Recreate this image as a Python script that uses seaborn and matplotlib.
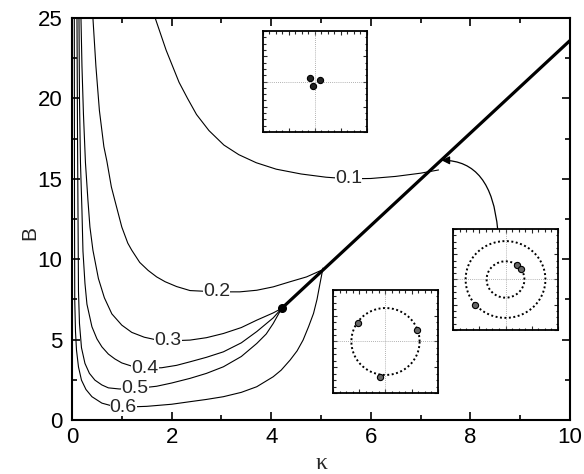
import numpy as np
import pandas as pd
import matplotlib
matplotlib.use("Agg")
import matplotlib.pyplot as plt
from matplotlib.ticker import MultipleLocator
import seaborn as sns

# Iso-lines in the (kappa, B) plane, one list of (kappa, B) points per level
levels = ["0.1", "0.2", "0.3", "0.4", "0.5", "0.6"]
kappa_01 = [1.67, 1.78, 1.89, 2.02, 2.15, 2.32, 2.5, 2.75, 3.05, 3.35, 3.7, 4.1,
            4.6, 5.1, 5.55, 6.0, 6.5, 7.0, 7.36]
b_01 = [25.0, 24.0, 23.0, 22.0, 21.0, 20.0, 19.0, 18.0, 17.1, 16.5, 16.0, 15.6,
        15.3, 15.1, 15.0, 15.02, 15.15, 15.35, 15.55]
kappa_02 = [0.42, 0.48, 0.55, 0.64, 0.70, 0.79, 0.86, 1.0, 1.12, 1.2, 1.36, 1.53,
            1.7, 1.87, 2.1, 2.37, 2.9, 3.37, 3.71, 4.04, 4.38, 4.71, 5.0]
b_02 = [25.0, 22.0, 19.25, 17.0, 16.1, 14.5, 13.66, 12.0, 11.0, 10.56, 9.8, 9.3,
        8.9, 8.6, 8.3, 8.05, 7.97, 7.97, 8.07, 8.28, 8.6, 8.9, 9.3]
kappa_03 = [0.18, 0.2, 0.23, 0.27, 0.32, 0.36, 0.42, 0.53, 0.65, 0.8, 1.0, 1.2,
            1.45, 1.7, 1.93, 2.37, 2.7, 3.04, 3.4, 3.71, 4.04, 4.21]
b_03 = [25.0, 22.0, 19.0, 16.0, 13.66, 12.0, 10.56, 8.8, 7.6, 6.6, 5.9, 5.45,
        5.15, 4.98, 4.92, 4.97, 5.12, 5.38, 5.75, 6.21, 6.66, 6.94]
kappa_04 = [0.14, 0.15, 0.17, 0.2, 0.22, 0.26, 0.3, 0.4, 0.5, 0.6, 0.73, 0.86,
            1.0, 1.2, 1.47, 1.8, 2.1, 2.37, 2.7, 3.04, 3.4, 3.71, 4.04, 4.21]
b_04 = [25.0, 20.0, 16.0, 13.0, 10.5, 8.5, 7.2, 5.8, 5.05, 4.55, 4.1, 3.8,
        3.55, 3.35, 3.22, 3.25, 3.4, 3.62, 3.9, 4.24, 4.8, 5.5, 6.35, 6.94]
kappa_05 = [0.1, 0.11, 0.12, 0.13, 0.15, 0.19, 0.26, 0.35, 0.46, 0.6, 0.73, 0.95,
            1.27, 1.7, 2.0, 2.37, 2.7, 3.04, 3.4, 3.71, 3.9, 4.04, 4.21]
b_05 = [25.0, 18.0, 13.0, 8.0, 6.0, 4.5, 3.52, 2.9, 2.48, 2.18, 2.0, 1.93,
        1.95, 2.1, 2.3, 2.59, 2.9, 3.31, 3.95, 4.76, 5.35, 6.0, 6.94]
kappa_06 = [0.046, 0.05, 0.055, 0.07, 0.09, 0.13, 0.19, 0.28, 0.4, 0.6, 0.8, 1.03,
            1.5, 2.0, 2.37, 2.7, 3.04, 3.4, 3.71, 4.04, 4.2, 4.38, 4.52, 4.64,
            4.75, 4.85, 4.92, 4.98, 5.04]
b_06 = [25.0, 13.0, 7.45, 5.5, 4.35, 3.3, 2.48, 1.9, 1.45, 1.05, 0.88, 0.8,
        0.85, 0.98, 1.14, 1.28, 1.45, 1.72, 2.07, 2.69, 3.1, 3.73, 4.3, 4.97,
        5.8, 6.63, 7.5, 8.49, 9.45]

# Positions of the inline level labels (kappa, B)
label_kappa = [5.55, 2.9, 1.93, 1.47, 1.27, 1.03]
label_b = [15.0, 7.97, 4.92, 3.22, 1.95, 0.8]

# Transition line and its end point
line_kappa = [4.21, 10.0]
line_b = [6.94, 23.6]

# Particle configurations shown in the three insets (normalised coordinates)
inset_top_x = [-0.10, 0.09, -0.03]
inset_top_y = [0.06, 0.04, -0.09]
inset_right_x = [0.225, 0.30, -0.587]
inset_right_y = [0.29, 0.205, -0.50]
inset_right_radii = [0.36, 0.76]
inset_bottom_x = [-0.52, 0.60, -0.11]
inset_bottom_y = [0.36, 0.22, -0.68]
inset_bottom_radii = [0.65]

sns.set_style("ticks")
plt.rcParams["font.family"] = ["Liberation Sans", "DejaVu Sans"]

fig = plt.figure(figsize=(5.84, 4.74), dpi=100)
ax = fig.add_axes([0.1233, 0.1139, 0.8527, 0.8481])

curves = [(kappa_01, b_01), (kappa_02, b_02), (kappa_03, b_03),
          (kappa_04, b_04), (kappa_05, b_05), (kappa_06, b_06)]
for lev, (kx, by) in zip(levels, curves):
    df = pd.DataFrame({"kappa": kx, "B": by})
    sns.lineplot(data=df, x="kappa", y="B", sort=False, estimator=None,
                 color="black", linewidth=0.8, ax=ax)

for lev, kx, by in zip(levels, label_kappa, label_b):
    ax.text(kx, by, lev, fontsize=14, ha="center", va="center",
            bbox=dict(facecolor="white", edgecolor="none", pad=0.2), zorder=4)

sns.lineplot(x=line_kappa, y=line_b, color="black", linewidth=2.3, ax=ax,
             solid_capstyle="butt")
ax.plot(line_kappa[0], line_b[0], "o", color="black", markersize=5.5, zorder=5)

ax.set_xlim(0, 10)
ax.set_ylim(0, 25)
ax.xaxis.set_major_locator(MultipleLocator(2))
ax.xaxis.set_minor_locator(MultipleLocator(1))
ax.yaxis.set_major_locator(MultipleLocator(5))
ax.yaxis.set_minor_locator(MultipleLocator(2.5))
ax.tick_params(which="both", direction="in", top=True, right=True,
               labelsize=16, width=1.2, colors="black")
ax.tick_params(which="major", length=6)
ax.tick_params(which="minor", length=3.5)
ax.tick_params(axis="x", pad=5)
ax.tick_params(axis="y", pad=7)
for s in ax.spines.values():
    s.set_linewidth(1.5)
    s.set_color("black")
ax.set_xlabel("κ", fontsize=17, family=["Liberation Serif", "DejaVu Serif"])
ax.set_ylabel("B", fontsize=15)
ax.xaxis.set_label_coords(0.5, -0.107)
ax.xaxis.label.set_verticalalignment("center")
ax.yaxis.set_label_coords(-0.084, 0.465)
ax.yaxis.label.set_verticalalignment("center")

# Arrow pointing from the right inset to the transition line
ax.annotate("", xy=(7.42, 16.15), xytext=(8.55, 11.8),
            arrowprops=dict(arrowstyle="-|>", color="black", lw=0.9,
                            mutation_scale=12, shrinkA=0, shrinkB=0,
                            connectionstyle="angle3,angleA=95,angleB=0"))


def draw_inset(rect, xs, ys, radii, face):
    ia = fig.add_axes(rect)
    ia.set_xlim(-1, 1)
    ia.set_ylim(-1, 1)
    ia.axhline(0, color="#999999", lw=0.6, ls=(0, (1, 1.5)))
    ia.axvline(0, color="#999999", lw=0.6, ls=(0, (1, 1.5)))
    t = np.linspace(0, 2 * np.pi, 200)
    for r in radii:
        ia.plot(r * np.cos(t), r * np.sin(t), color="black", lw=1.4,
                ls=(0, (1, 1.3)))
    sns.scatterplot(x=xs, y=ys, s=20, color=face, edgecolor="black",
                    linewidth=0.8, ax=ia, zorder=5)
    ia.xaxis.set_major_locator(MultipleLocator(0.5))
    ia.xaxis.set_minor_locator(MultipleLocator(0.125))
    ia.yaxis.set_major_locator(MultipleLocator(0.5))
    ia.yaxis.set_minor_locator(MultipleLocator(0.125))
    ia.tick_params(which="both", direction="in", top=True, right=True,
                   labelbottom=False, labelleft=False, width=0.8)
    ia.tick_params(which="major", length=3)
    ia.tick_params(which="minor", length=1.8)
    for s in ia.spines.values():
        s.set_linewidth(1.3)
        s.set_color("black")
    ia.set_xlabel("")
    ia.set_ylabel("")


draw_inset([0.4503, 0.7215, 0.178, 0.213], inset_top_x, inset_top_y, [], "#222222")
draw_inset([0.7757, 0.3038, 0.1798, 0.2131], inset_right_x, inset_right_y,
           inset_right_radii, "#666666")
draw_inset([0.5702, 0.1709, 0.1798, 0.2173], inset_bottom_x, inset_bottom_y,
           inset_bottom_radii, "#666666")

fig.savefig("out.png", dpi=100)
